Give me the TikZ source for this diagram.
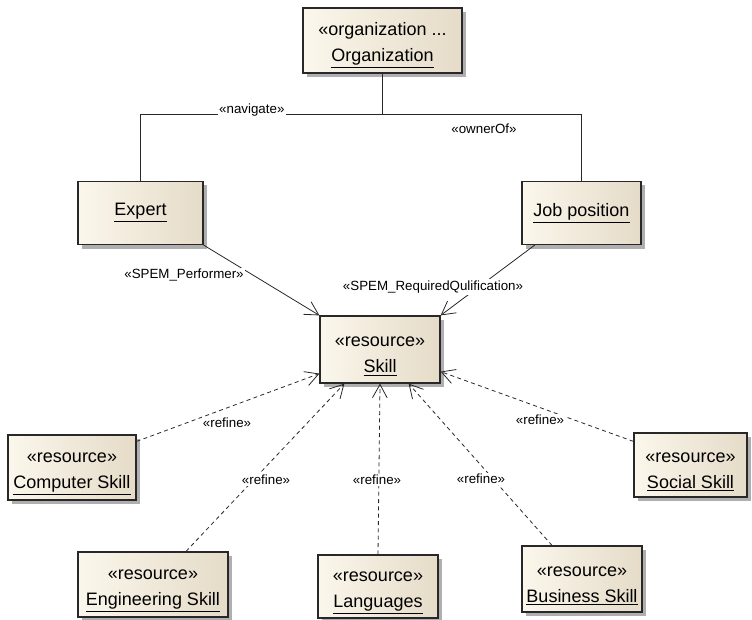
\documentclass[tikz,border=0pt]{standalone}
\usepackage{fontspec}
\setmainfont{Liberation Sans}
\usetikzlibrary{arrows.meta,shadows}

\definecolor{boxlight}{RGB}{251,247,236}
\definecolor{boxdark}{RGB}{229,219,200}
\definecolor{boxline}{RGB}{40,40,40}
\definecolor{boxshadow}{RGB}{175,175,175}

\begin{document}
\begin{tikzpicture}[x=0.75pt, y=-0.75pt,
  classbox/.style={draw=boxline, line width=0.9pt, left color=boxlight, right color=boxdark,
    drop shadow={shadow xshift=3pt, shadow yshift=-3pt, fill=boxshadow, opacity=1},
    align=center, inner sep=0pt, font=\fontsize{13.5}{19.5}\selectfont},
  twoline/.style={classbox, execute at begin node={\rule{0pt}{37pt}}},
  boxsize/.style 2 args={minimum width=#1*0.75pt, minimum height=#2*0.75pt},
  link/.style={draw=boxline, line width=0.6pt},
  navarrow/.style={link, -{Straight Barb[length=10pt,width=11pt]}},
  refine/.style={navarrow, dash pattern=on 3pt off 2.5pt},
  tag/.style={font=\fontsize{10}{12}\selectfont, fill=white, inner sep=1pt}]

  \useasboundingbox (0,0) rectangle (752,620);

  % classes
  \node[twoline, boxsize={159}{65}] (org) at (382.5,40.5) {«organization ...\\\underline{Organization}};
  \node[classbox, boxsize={125}{63}] (expert) at (140.5,213) {\underline{Expert}};
  \node[classbox, boxsize={119}{63}] (job) at (581.5,213) {\underline{Job position}};
  \node[twoline, boxsize={120}{67}] (skill) at (380,349.5) {«resource»\\\underline{Skill}};

  \node[twoline, boxsize={128}{65}] (comp) at (72,467.5) {«resource»\\\underline{Computer Skill}};
  \node[twoline, boxsize={113}{64}] (social) at (690.5,465) {«resource»\\\underline{Social Skill}};
  \node[twoline, boxsize={150}{65}] (eng) at (153,584.5) {«resource»\\\underline{Engineering Skill}};
  \node[twoline, boxsize={120}{63}] (lang) at (378,586.5) {«resource»\\\underline{Languages}};
  \node[twoline, boxsize={120}{66}] (bus) at (582,579) {«resource»\\\underline{Business Skill}};

  % associations of the organization
  \coordinate (fork) at (382.5,114);
  \draw[link] (org.south) -- (fork) -| (expert.north)
    node[pos=0.27, tag, yshift=3pt] (navigate) {«navigate»};
  \draw[link] (fork) -| (job.north);
  \node[tag] (owner) at (484,129) {«ownerOf»};

  \draw[navarrow] (expert.south east) -- (skill.north west);
  \node[tag] (performer) at (184,275) {«SPEM\_Performer»};
  \draw[navarrow] ([xshift=10pt]job.south west) -- (skill.north east);
  \node[tag] (required) at (433,287) {«SPEM\_RequiredQulification»};

  % refinements of the skill
  \draw[refine] ([yshift=-5.25pt]comp.north east) -- ([yshift=7.5pt]skill.south west);
  \draw[refine] ([xshift=24.75pt]eng.north) -- ([xshift=18.75pt]skill.south west);
  \draw[refine] (lang.north) -- (skill.south);
  \draw[refine] ([xshift=-22.5pt]bus.north) -- ([xshift=-24pt]skill.south east);
  \draw[refine] ([yshift=-6.75pt]social.north west) -- ([yshift=9pt]skill.south east);

  \node[tag] (rcomp) at (227,423) {«refine»};
  \node[tag] (reng) at (266,480) {«refine»};
  \node[tag] (rlang) at (377,480) {«refine»};
  \node[tag] (rbus) at (481,479) {«refine»};
  \node[tag] (rsocial) at (540,420) {«refine»};

\end{tikzpicture}
\end{document}
